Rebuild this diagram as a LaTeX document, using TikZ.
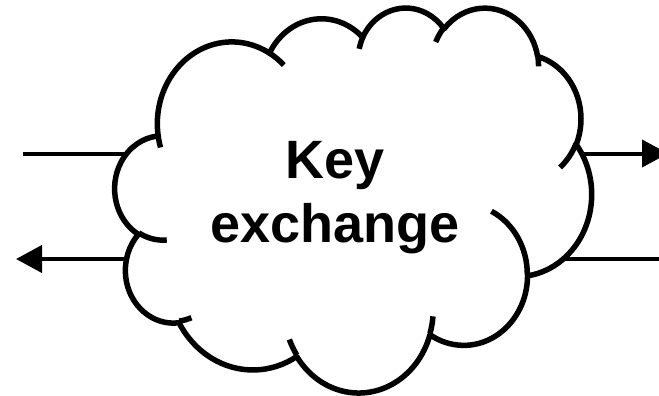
\documentclass[tikz,border=0pt]{standalone}
\usepackage{fontspec}
\setmainfont{Liberation Sans}
\usetikzlibrary{arrows.meta}
\tikzset{
  dml/.code n args={4}{%
    \pgfmathsetmacro\dmlA{atan2((#1)*sin(#3),(#2)*cos(#3))}%
    \pgfmathsetmacro\dmlB{atan2((#1)*sin((#3)+(#4)),(#2)*cos((#3)+(#4)))}%
    \pgfmathsetmacro\dmlB{\dmlB+360*ceil((\dmlA-\dmlB)/360)}%
    \edef\dmlnext{\noexpand\pgfkeysalso{start angle=\dmlA, end angle=\dmlB, x radius=#1pt, y radius=#2pt}}%
    \dmlnext},
  cloudshape/.style={draw=black, fill=white, line width=5.5pt, line join=round},
  cloudtail/.style={draw=black, line width=5.5pt},
  conn/.style={draw=black, line width=4pt},
  arrowtip/.style={-{Triangle[length=26pt,width=27pt]}},
  textlabel/.style={font=\fontsize{54}{64}\selectfont\bfseries, inner sep=0pt, anchor=base}
}
\begin{document}
\begin{tikzpicture}[x=1pt,y=-1pt]
\useasboundingbox (0,0) rectangle (659,396);
\clip (0,0) rectangle (659,396);
\fill[white] (0,0) rectangle (659,396);
% connector end points
\coordinate (inA) at (23,153.5);
\coordinate (inAend) at (140,153.5);
\coordinate (outBstart) at (140,259);
\coordinate (outB) at (16,259);
\coordinate (outCstart) at (560,153.5);
\coordinate (outC) at (668,153.5);
\coordinate (inDstart) at (540,259);
\coordinate (inD) at (665,259);
\draw[conn] (inA) -- (inAend);
\draw[conn, arrowtip] (outBstart) -- (outB);
\draw[conn, arrowtip] (outCstart) -- (outC);
\draw[conn] (inD) -- (inDstart);
% cloud (DrawingML cloud preset, 432 x 432 units)
\begin{scope}[shift={(115,6.8)}, xscale=1.1030, yscale=-0.8908]
\path[cloudshape] (39.00pt,143.70pt)
  arc[dml={67.53}{91.90}{-190.4875}{123.7805}]
  arc[dml={53.33}{72.67}{-144.1024}{89.9452}]
  arc[dml={43.65}{59.45}{-145.8079}{99.7230}]
  arc[dml={48.57}{65.95}{-130.9861}{117.2417}]
  arc[dml={53.33}{72.73}{-78.7089}{109.0269}]
  arc[dml={67.75}{92.20}{-46.2673}{130.2690}]
  arc[dml={57.85}{78.67}{0.6250}{114.0333}]
  arc[dml={67.52}{92.15}{22.4516}{115.1726}]
  arc[dml={77.20}{105.43}{66.2426}{75.7110}]
  arc[dml={43.60}{59.18}{-274.9421}{146.7356}]
  arc[dml={43.45}{59.45}{-246.8285}{152.5189}]
  -- cycle;
\path[cloudtail]
  (46.93pt,261.77pt) arc[dml={43.45}{59.45}{86.7420}{26.4295}]
  (69.28pt,348.99pt) arc[dml={43.60}{59.18}{73.6105}{11.4475}]
  (164.78pt,390.90pt) arc[dml={67.52}{92.15}{137.6242}{14.0811}]
  (288.27pt,347.51pt) arc[dml={67.52}{92.15}{6.4533}{15.9984}]
  (341.29pt,229.54pt) arc[dml={57.85}{78.67}{-70.2924}{70.9174}]
  (417.98pt,153.54pt) arc[dml={53.33}{72.73}{30.3180}{27.7515}]
  (383.24pt,54.26pt) arc[dml={48.57}{65.95}{-13.7443}{14.8589}]
  (290.78pt,39.52pt) arc[dml={48.57}{65.95}{-149.1815}{18.1954}]
  (221.41pt,47.20pt) arc[dml={43.65}{59.45}{-163.4943}{17.6864}]
  (140.00pt,51.92pt) arc[dml={67.53}{91.90}{-66.7070}{12.3194}]
  (41.27pt,157.89pt) arc[dml={67.53}{91.90}{157.6544}{11.8582}];
\end{scope}
\node[textlabel] (key) at (335,178) {Key};
\node[textlabel] (exch) at (335,242) {exchange};
\end{tikzpicture}
\end{document}
